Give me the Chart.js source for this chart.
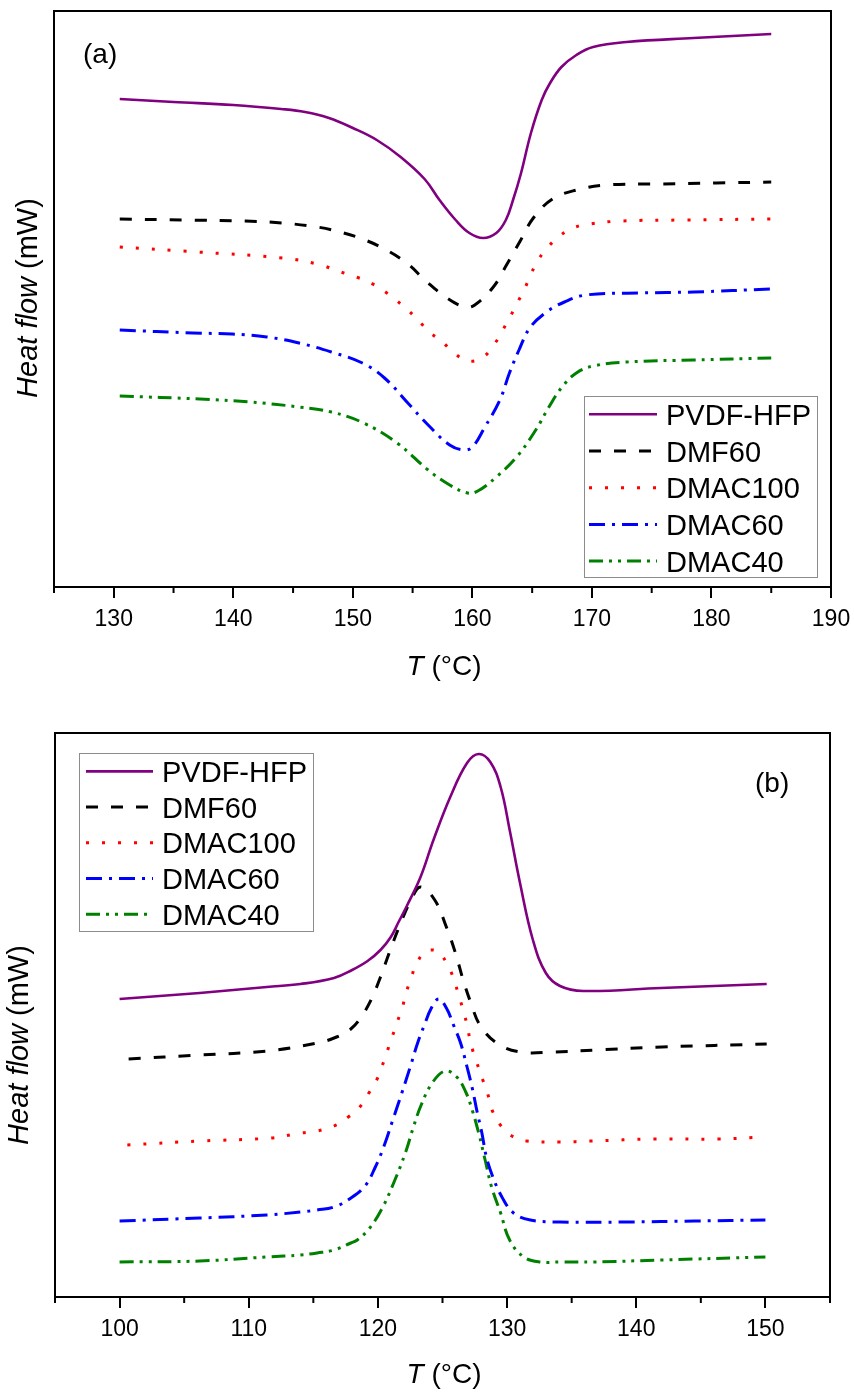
<!DOCTYPE html>
<html>
<head>
<meta charset="utf-8">
<script src="https://cdn.jsdelivr.net/npm/chart.js@4.4.0/dist/chart.umd.min.js"></script>
<style>
  html, body { margin: 0; padding: 0; background: #fff; }
  #wrap { position: relative; width: 854px; height: 1394px; background: #fff; }
  canvas { position: absolute; left: 0; }
</style>
</head>
<body>
<div id="wrap">
  <canvas id="chartA" width="854" height="700" style="top:0"></canvas>
  <canvas id="chartB" width="854" height="694" style="top:700px"></canvas>
</div>
<script>
// sample names, same order in both panels
var seriesNames = ['PVDF-HFP', 'DMF60', 'DMAC100', 'DMAC60', 'DMAC40'];

// labelled temperature ticks
var ticksA = [130, 140, 150, 160, 170, 180, 190];
var ticksB = [100, 110, 120, 130, 140, 150];

// ---- panel (a): melting, temperature (°C) and heat flow (a.u., offset curves) ----
var tA_pvdf = [130.5, 135, 140, 144, 146, 148, 150, 152, 154, 156, 157.25, 158.6, 159.75, 160.9, 162, 162.8, 163.4, 164.05, 164.9, 165.8, 166.5, 167.45, 168.7, 170.1, 172.9, 178.5, 185];
var hA_pvdf = [488, 485, 482, 478, 475, 469, 459, 447, 430, 408, 387, 367, 354, 349, 354, 367, 387, 413, 454, 487, 504, 520, 532, 540, 545, 549, 553];

var tA_dmf60 = [130.5, 136, 141, 144.1, 147, 148.6, 150.8, 152.8, 154.6, 156.2, 158, 159.4, 160.2, 161.75, 162.9, 164, 165.1, 166.7, 168.7, 171.2, 175.6, 180.4, 185];
var hA_dmf60 = [368, 367, 366, 364, 360, 356, 348, 337, 323, 305, 288, 280, 282, 300, 323, 346, 369, 388, 397, 402, 403, 404, 405];

var tA_dmac100 = [130.5, 137, 144.1, 147, 149, 150.3, 151.5, 152.6, 153.6, 154.6, 155.6, 156.5, 157.5, 158.45, 159.7, 160.9, 161.85, 162.5, 163.15, 163.8, 164.4, 164.9, 165.5, 166.25, 167.3, 168.4, 169.8, 172.5, 177.8, 185];
var hA_dmac100 = [340, 335, 329, 323, 315, 310, 304, 296, 287, 277, 265, 254, 245, 234, 226, 230, 243, 256, 270, 285, 299, 313, 327, 339, 351, 359, 363, 366, 367, 368];

var tA_dmac60 = [130.5, 136.6, 139.9, 142.8, 145.5, 148.2, 150.8, 152.65, 154.6, 156.3, 158.1, 159.3, 160.0, 161.0, 162.3, 163.1, 163.9, 164.8, 166.2, 167.7, 169.5, 174, 178.5, 185];
var hA_dmac60 = [257, 254, 253, 250, 244, 235, 224, 209, 184, 162, 142, 137, 140, 159, 187, 214, 237, 259, 275, 285, 292, 294, 295, 298];

var tA_dmac40 = [130.5, 137.2, 141.4, 145.5, 148.2, 150.9, 153.7, 156.3, 158.1, 159.6, 160.45, 162.0, 163.7, 165.3, 166.4, 167.5, 168.7, 170.1, 172.9, 178.5, 185];
var hA_dmac40 = [191, 188, 185, 180, 175, 164, 144, 117, 102, 94, 96, 110, 130, 157, 180, 200, 214, 221, 225, 227, 229];

// ---- panel (b): crystallization ----
var tB_pvdf = [100, 106.2, 111.4, 114, 116.6, 118, 119.2, 120.2, 121.0, 121.6, 122.2, 123.3, 124.3, 125.6, 126.9, 127.8, 128.7, 129.5, 130.2, 131.0, 132.0, 133.0, 134.1, 135.9, 141.9, 150.1];
var hB_pvdf = [298, 304, 310, 313, 319, 327, 336, 347, 360, 375, 390, 420, 457, 500, 534, 543, 535, 510, 467, 414, 357, 324, 311, 306, 309, 313];

var tB_dmf60 = [100.7, 106.2, 111.4, 115.3, 116.8, 117.9, 118.7, 119.5, 120.2, 120.9, 121.7, 122.6, 123.3, 124.4, 125.3, 126.0, 126.6, 127.2, 127.9, 129.2, 131.0, 133.6, 137, 142, 150.1];
var hB_dmf60 = [238, 242, 246, 254, 260, 268, 280, 298, 320, 345, 372, 398, 410, 397, 370, 344, 317, 294, 272, 254, 245, 245, 247, 250, 253];

var tB_dmac100 = [100.6, 106.2, 111.7, 114, 115.3, 116.6, 117.7, 118.6, 119.3, 119.9, 120.3, 120.7, 121.1, 121.5, 121.9, 122.2, 122.6, 123.0, 123.8, 124.7, 125.3, 125.85, 126.2, 126.6, 126.9, 127.1, 127.4, 127.8, 128.2, 128.6, 128.9, 129.6, 130.5, 131.5, 134.1, 136.5, 141.4, 146.3, 150];
var hB_dmac100 = [152, 156, 159, 164, 166, 171, 180, 190, 204, 217, 230, 245, 260, 275, 290, 305, 320, 334, 346, 345, 334, 319, 304, 287, 272, 259, 244, 229, 214, 199, 185, 170, 160, 156, 155, 156, 158, 158, 160];

var tB_dmac60 = [100, 106.2, 111.4, 114, 115.3, 116.6, 117.8, 119.0, 119.8, 120.5, 121.15, 121.85, 122.5, 123.1, 123.6, 124.1, 124.7, 125.3, 125.85, 126.4, 126.9, 127.3, 127.7, 128.05, 128.4, 128.9, 129.6, 130.5, 131.8, 134.1, 139.3, 144.5, 150];
var hB_dmac60 = [76, 79, 82, 85, 87, 90, 98, 111, 130, 152, 177, 204, 230, 255, 272, 288, 298, 289, 272, 254, 230, 209, 184, 164, 140, 120, 100, 84, 77, 75, 75, 76, 77];

var tB_dmac40 = [100, 106.2, 111.4, 114, 115.3, 116.6, 117.9, 118.4, 119.3, 120.3, 121.25, 122.15, 122.75, 123.35, 124.2, 125.2, 126.1, 126.8, 127.3, 127.8, 128.3, 128.8, 129.5, 130.2, 131.3, 132.6, 134.1, 136.7, 141.9, 150];
var hB_dmac40 = [35, 36, 40, 42, 44, 47, 54, 57, 68, 88, 115, 145, 170, 192, 214, 226, 220, 205, 187, 164, 137, 110, 84, 57, 40, 35, 35, 35, 37, 40];

// line styles per series
var lineColors = ['#800080', '#000000', '#ff0000', '#0000ff', '#008000'];
var lineDashes = [[], [12, 13], [3, 13], [16, 7, 3, 7], [14, 6, 3, 6, 3, 6]];
var lineWidths = [2.6, 3, 3, 3, 3];

var FONT = '"Liberation Sans", Arial, Helvetica, sans-serif';

function makeSets(temps, flows) {
  return seriesNames.map(function (name, i) {
    return {
      label: name,
      data: temps[i].map(function (t, j) { return { x: t, y: flows[i][j] }; }),
      borderColor: lineColors[i],
      borderWidth: lineWidths[i],
      borderDash: lineDashes[i],
      borderCapStyle: 'butt',
      pointRadius: 0,
      fill: false,
      tension: 0.4
    };
  });
}

// frame, minor ticks, axis titles, panel tag and legend box
var decor = {
  id: 'decor',
  afterDraw: function (chart, args, o) {
    var ctx = chart.ctx, a = chart.chartArea, xs = chart.scales.x;
    ctx.save();
    ctx.strokeStyle = '#000';
    ctx.lineWidth = 2;
    ctx.setLineDash([]);
    ctx.strokeRect(a.left, a.top, a.right - a.left, a.bottom - a.top);

    // minor ticks halfway between labelled ones
    for (var v = xs.min; v <= xs.max + 1e-6; v += 5) {
      if (Math.abs(v % 10) < 1e-6) continue;
      var px = xs.getPixelForValue(v);
      ctx.beginPath();
      ctx.moveTo(px, a.bottom);
      ctx.lineTo(px, a.bottom + 6);
      ctx.stroke();
    }

    ctx.fillStyle = '#000';
    ctx.textBaseline = 'alphabetic';
    ctx.textAlign = 'left';

    // x title: italic T + (°C)
    ctx.font = 'italic 28px ' + FONT;
    var w1 = ctx.measureText('T').width;
    ctx.font = '28px ' + FONT;
    var w2 = ctx.measureText(' (°C)').width;
    var x0 = o.xTitleX - (w1 + w2) / 2;
    ctx.font = 'italic 28px ' + FONT;
    ctx.fillText('T', x0, o.xTitleY);
    ctx.font = '28px ' + FONT;
    ctx.fillText(' (°C)', x0 + w1, o.xTitleY);

    // y title rotated
    ctx.save();
    ctx.translate(o.yTitleX, o.yTitleY);
    ctx.rotate(-Math.PI / 2);
    ctx.font = 'italic 29px ' + FONT;
    var w3 = ctx.measureText('Heat flow').width;
    ctx.font = '29px ' + FONT;
    var w4 = ctx.measureText(' (mW)').width;
    var y0 = -(w3 + w4) / 2;
    ctx.font = 'italic 29px ' + FONT;
    ctx.fillText('Heat flow', y0, 0);
    ctx.font = '29px ' + FONT;
    ctx.fillText(' (mW)', y0 + w3, 0);
    ctx.restore();

    // panel tag
    ctx.font = '28px ' + FONT;
    ctx.fillText(o.tag, o.tagX, o.tagY);

    // legend
    var L = o.legend;
    ctx.fillStyle = '#fff';
    ctx.fillRect(L.x, L.y, L.w, L.h);
    ctx.strokeStyle = '#8c8c8c';
    ctx.lineWidth = 1;
    ctx.strokeRect(L.x + 0.5, L.y + 0.5, L.w, L.h);
    ctx.font = '29px ' + FONT;
    chart.data.datasets.forEach(function (ds, i) {
      var ry = L.y + L.first + i * L.gap;
      ctx.strokeStyle = ds.borderColor;
      ctx.lineWidth = ds.borderWidth;
      ctx.setLineDash(ds.borderDash);
      ctx.lineCap = 'butt';
      ctx.beginPath();
      ctx.moveTo(L.x + L.l1, ry);
      ctx.lineTo(L.x + L.l2, ry);
      ctx.stroke();
      ctx.setLineDash([]);
      ctx.fillStyle = '#000';
      ctx.fillText(ds.label, L.x + L.tx, ry + 10.5);
    });
    ctx.restore();
  }
};

function makeChart(id, temps, flows, xr, tickVals, yMax, pad, axisH, deco) {
  return new Chart(document.getElementById(id), {
    type: 'line',
    data: { datasets: makeSets(temps, flows) },
    options: {
      responsive: false,
      devicePixelRatio: 1,
      animation: false,
      events: [],
      layout: { padding: pad },
      plugins: {
        legend: { display: false },
        tooltip: { enabled: false },
        decor: deco
      },
      scales: {
        x: {
          type: 'linear',
          bounds: 'data',
          min: xr[0],
          max: xr[1],
          border: { display: false },
          grid: {
            display: true,
            drawOnChartArea: false,
            drawTicks: true,
            tickLength: 11,
            color: '#000',
            lineWidth: 2
          },
          ticks: {
            autoSkip: false,
            maxRotation: 0,
            padding: 8,
            color: '#000',
            font: { family: FONT, size: 23 }
          },
          afterBuildTicks: function (s) {
            s.ticks = tickVals.map(function (v) { return { value: v }; });
          },
          afterFit: function (s) {
            s.height = axisH;
            s.paddingLeft = 0;
            s.paddingRight = 0;
          }
        },
        y: {
          type: 'linear',
          display: false,
          bounds: 'data',
          min: 0,
          max: yMax
        }
      }
    },
    plugins: [decor]
  });
}

makeChart('chartA',
  [tA_pvdf, tA_dmf60, tA_dmac100, tA_dmac60, tA_dmac40],
  [hA_pvdf, hA_dmf60, hA_dmac100, hA_dmac60, hA_dmac40],
  [125, 190], ticksA, 576, { left: 54, top: 11, right: 23, bottom: 0 }, 113,
  {
    xTitleX: 444, xTitleY: 675,
    yTitleX: 37, yTitleY: 298,
    tag: '(a)', tagX: 83, tagY: 63,
    legend: { x: 584, y: 396, w: 233, h: 181, first: 18.3, gap: 36.7, l1: 5, l2: 73, tx: 82 }
  });

makeChart('chartB',
  [tB_pvdf, tB_dmf60, tB_dmac100, tB_dmac60, tB_dmac40],
  [hB_pvdf, hB_dmf60, hB_dmac100, hB_dmac60, hB_dmac40],
  [95, 155], ticksB, 564, { left: 55, top: 33, right: 24, bottom: 0 }, 97,
  {
    xTitleX: 444, xTitleY: 683,
    yTitleX: 28, yTitleY: 345,
    tag: '(b)', tagX: 755, tagY: 92,
    legend: { x: 79, y: 53, w: 234, h: 178, first: 18.4, gap: 35.7, l1: 7, l2: 74, tx: 83 }
  });
</script>
</body>
</html>
